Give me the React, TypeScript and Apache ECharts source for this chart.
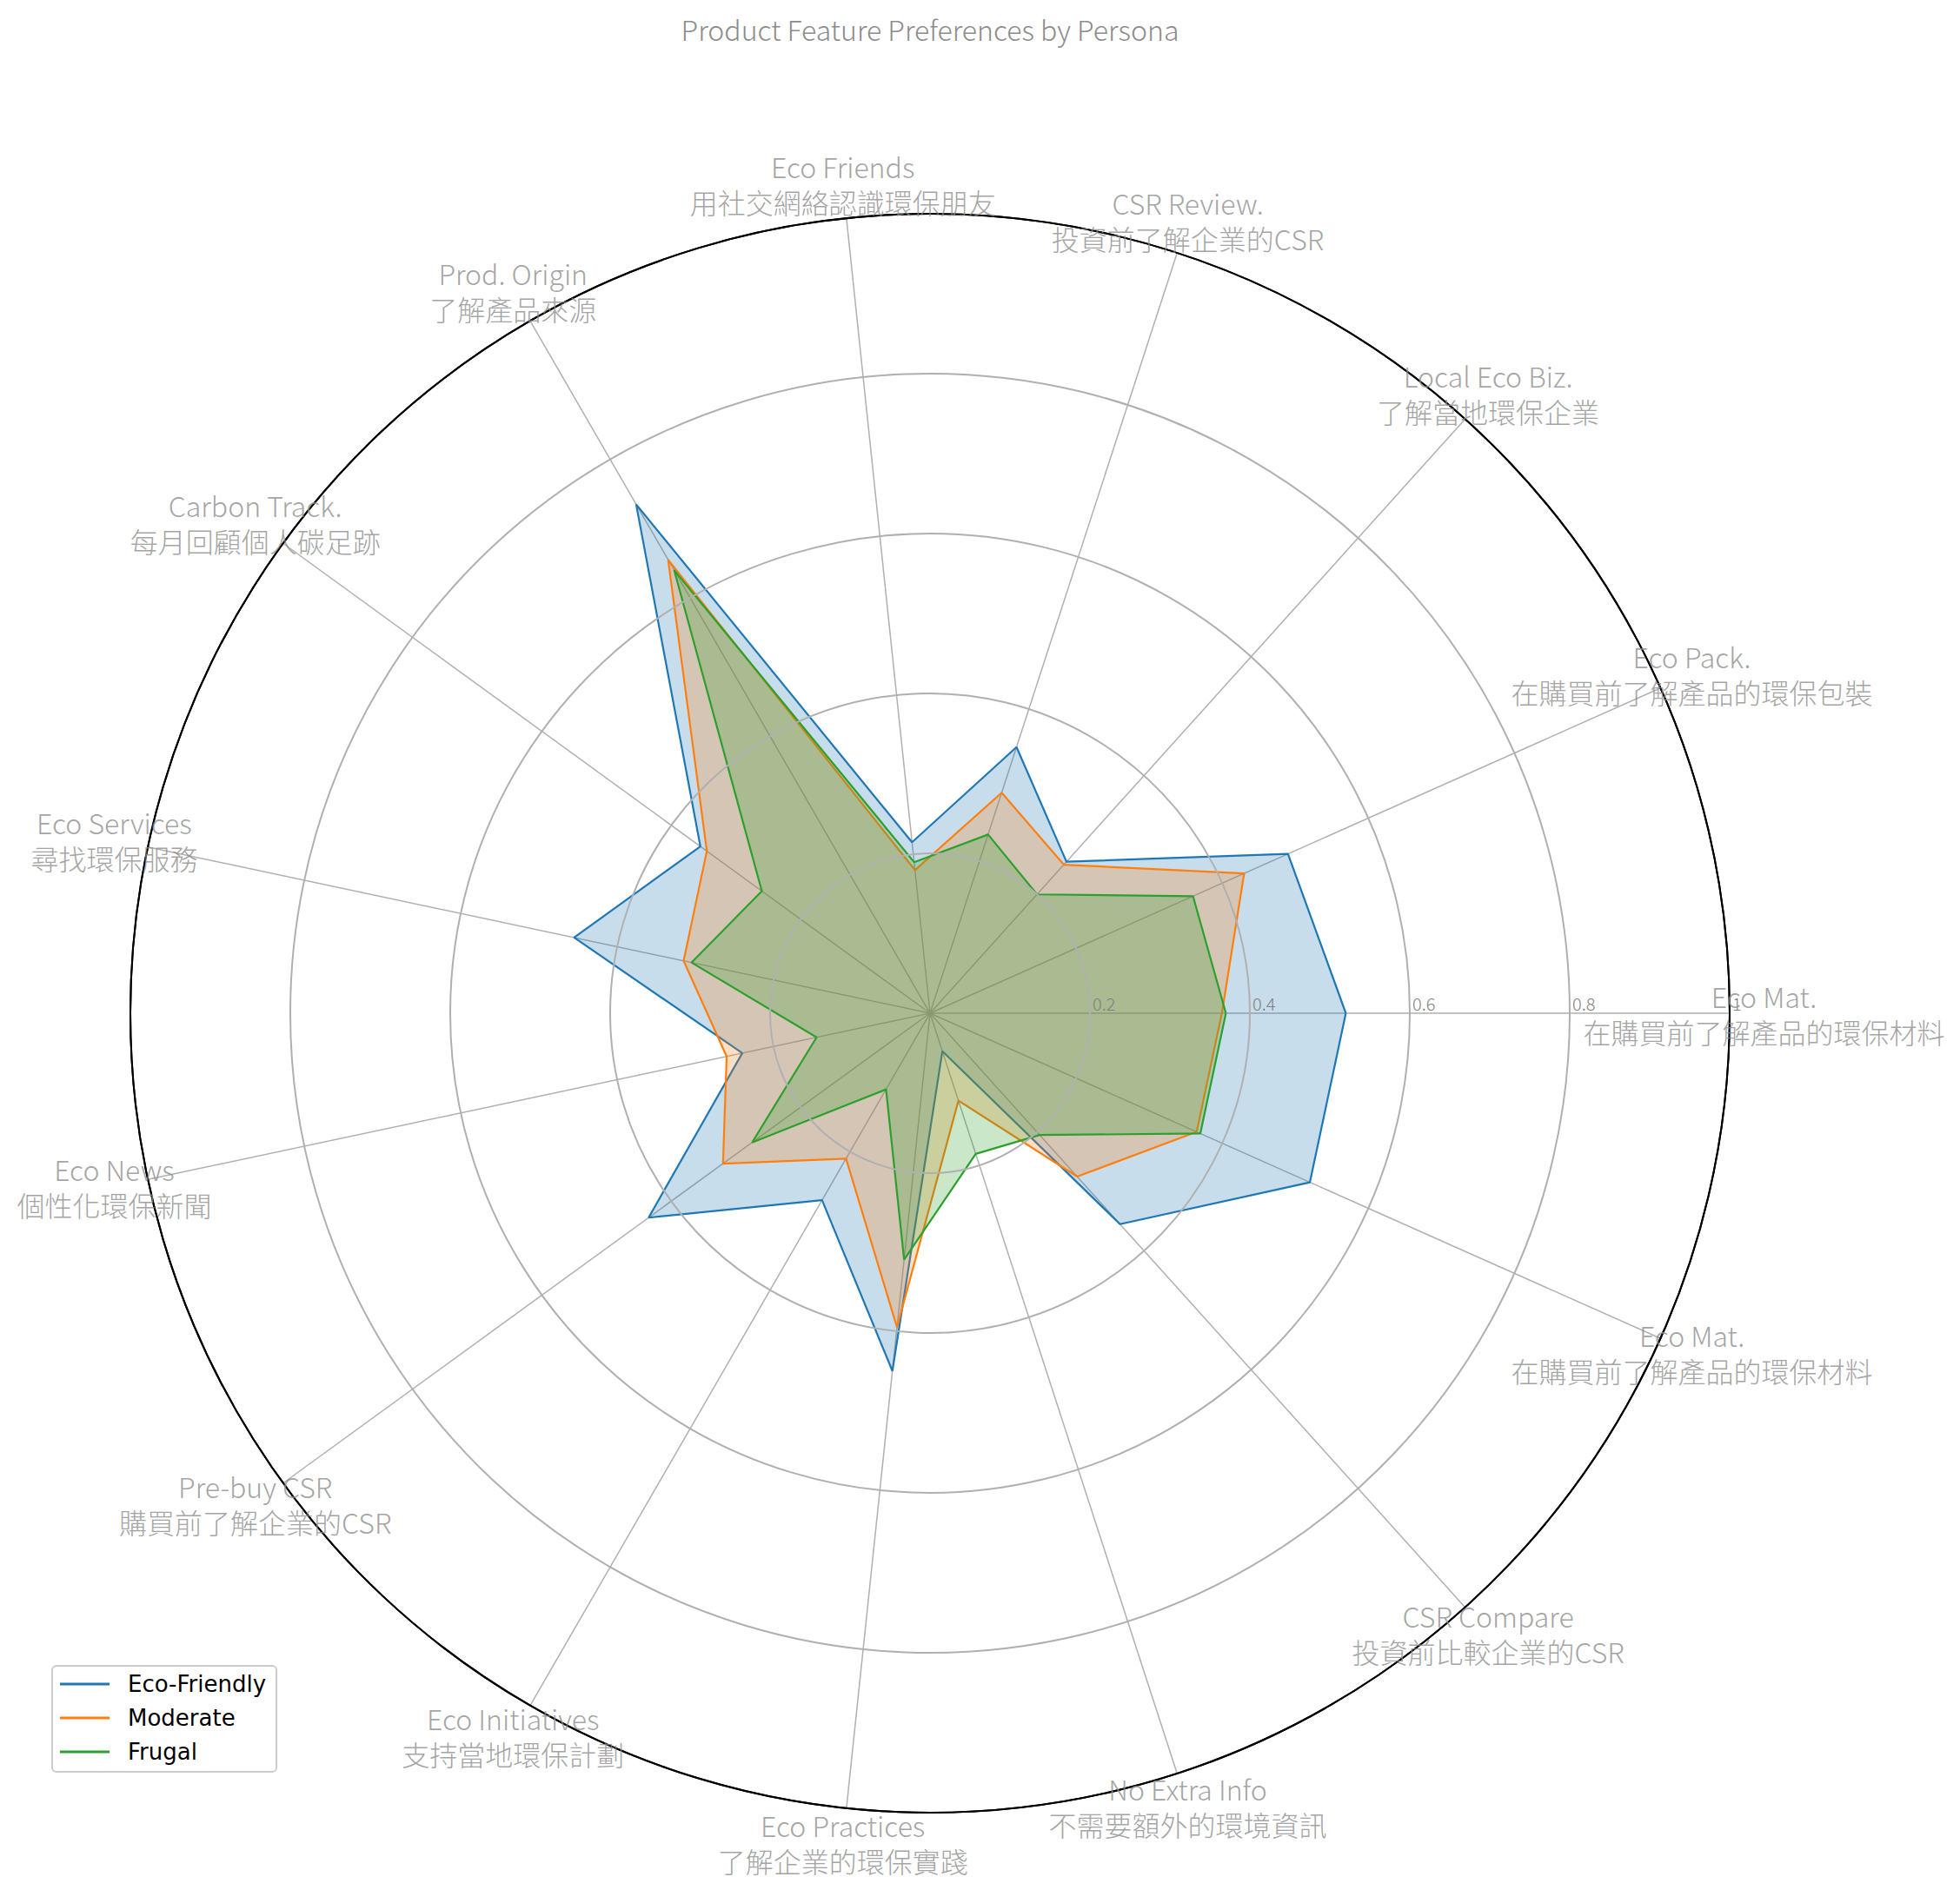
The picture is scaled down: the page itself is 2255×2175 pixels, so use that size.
import React, { useEffect, useRef } from 'react';
import * as echarts from 'echarts';

const TITLE = 'Product Feature Preferences by Persona';

const LABELS_EN = [
  'Eco Mat.', 'Eco Pack.', 'Local Eco Biz.', 'CSR Review.', 'Eco Friends',
  'Prod. Origin', 'Carbon Track.', 'Eco Services', 'Eco News', 'Pre-buy CSR',
  'Eco Initiatives', 'Eco Practices', 'No Extra Info', 'CSR Compare', 'Eco Mat.',
];
const LABELS_ZH = [
  '在購買前了解產品的環保材料', '在購買前了解產品的環保包裝', '了解當地環保企業', '投資前了解企業的CSR', '用社交網絡認識環保朋友',
  '了解產品來源', '每月回顧個人碳足跡', '尋找環保服務', '個性化環保新聞', '購買前了解企業的CSR',
  '支持當地環保計劃', '了解企業的環保實踐', '不需要額外的環境資訊', '投資前比較企業的CSR', '在購買前了解產品的環保材料',
];

const SERIES_NAMES = ['Eco-Friendly', 'Moderate', 'Frugal'];
const ECO_FRIENDLY = [0.52, 0.49, 0.255, 0.35, 0.215, 0.735, 0.355, 0.455, 0.24, 0.435, 0.27, 0.45, 0.05, 0.355, 0.52];
const MODERATE = [0.365, 0.43, 0.25, 0.29, 0.18, 0.655, 0.345, 0.315, 0.26, 0.32, 0.21, 0.395, 0.115, 0.275, 0.365];
const FRUGAL = [0.37, 0.36, 0.2, 0.235, 0.19, 0.64, 0.26, 0.305, 0.145, 0.275, 0.11, 0.31, 0.185, 0.205, 0.37];
const RADIUS_TICKS = [0, 0.2, 0.4, 0.6, 0.8, 1];

const COLORS = ['#1f77b4', '#ff7f0e', '#2ca02c'];
const FILLS = ['rgba(31,119,180,0.25)', 'rgba(255,127,14,0.25)', 'rgba(44,160,44,0.25)'];

const LABEL_FONT = "'Noto Sans CJK TC', 'Noto Sans CJK SC', 'Noto Sans', sans-serif";

export default function App() {
  const ref = useRef<HTMLDivElement>(null);

  useEffect(() => {
    if (!ref.current) return;
    const chart = echarts.init(ref.current, null, { renderer: 'svg' });
    const n = LABELS_EN.length;
    const step = 360 / n;
    const angles = LABELS_EN.map((_, i) => i * step);
    const toPolar = (vals: number[]) => [
      ...vals.map((v, i) => [v, angles[i]]),
      [vals[0], 360],
    ];
    const allSeries = [ECO_FRIENDLY, MODERATE, FRUGAL];
    const cx = 1070;
    const cy = 1166;
    const R = 920;
    const circleColors = RADIUS_TICKS.map((_, i) =>
      i === RADIUS_TICKS.length - 1 ? '#000000' : '#b0b0b0'
    );

    chart.setOption({
      animation: false,
      backgroundColor: '#ffffff',
      graphic: [
        {
          type: 'text',
          x: cx,
          y: 33,
          style: {
            text: TITLE,
            fill: '#8c8c8c',
            fontSize: 32,
            fontWeight: 300,
            fontFamily: LABEL_FONT,
            textAlign: 'center',
            textVerticalAlign: 'middle',
          },
        },
      ],
      polar: { center: [cx, cy], radius: R },
      angleAxis: {
        type: 'value',
        min: 0,
        max: 360,
        interval: step,
        startAngle: 0,
        clockwise: false,
        axisLine: { show: true, lineStyle: { color: '#000000', width: 2 } },
        axisTick: { show: false },
        axisLabel: { show: false },
        splitLine: { show: true, lineStyle: { color: '#b0b0b0', width: 1.5 } },
      },
      radiusAxis: {
        type: 'value',
        min: RADIUS_TICKS[0],
        max: RADIUS_TICKS[RADIUS_TICKS.length - 1],
        interval: RADIUS_TICKS[1] - RADIUS_TICKS[0],
        z: 10,
        axisLine: { show: false },
        axisTick: { show: false },
        splitLine: { show: true, lineStyle: { color: circleColors, width: 2 } },
        axisLabel: {
          show: true,
          align: 'left',
          verticalAlign: 'bottom',
          margin: 2,
          padding: [0, 0, 0, 3],
          fontSize: 20,
          color: '#808080',
          fontFamily: LABEL_FONT,
          fontWeight: 300,
          formatter: (v: number) => (v === 0 ? '' : String(+v.toFixed(1))),
        },
      },
      legend: {
        data: SERIES_NAMES,
        orient: 'vertical',
        left: 60,
        top: 1917,
        icon: 'rect',
        itemWidth: 57,
        itemHeight: 3,
        itemGap: 9,
        padding: [6, 12, 8, 9],
        backgroundColor: '#ffffff',
        borderColor: '#cccccc',
        borderWidth: 2,
        borderRadius: 5,
        textStyle: {
          fontFamily: 'DejaVu Sans',
          fontSize: 26,
          color: '#000000',
          lineHeight: 30,
          padding: [0, 0, 0, 16],
        },
      },
      series: [
        ...allSeries.map((vals, i) => ({
          type: 'line',
          name: SERIES_NAMES[i],
          coordinateSystem: 'polar',
          data: toPolar(vals),
          symbol: 'none',
          smooth: false,
          clip: false,
          z: 2 + i,
          lineStyle: { color: COLORS[i], width: 2.2 },
          itemStyle: { color: COLORS[i] },
          areaStyle: { color: FILLS[i], opacity: 1 },
        })),
        {
          type: 'scatter',
          name: 'labels',
          coordinateSystem: 'polar',
          silent: true,
          clip: false,
          symbolSize: 1,
          itemStyle: { color: 'rgba(0,0,0,0)' },
          z: 20,
          data: LABELS_EN.map((en, i) => ({
            name: en + '\n' + LABELS_ZH[i],
            value: [1.043, angles[i]],
          })),
          label: {
            show: true,
            position: 'inside',
            formatter: '{b}',
            align: 'center',
            verticalAlign: 'middle',
            fontSize: 32,
            lineHeight: 41,
            color: '#8c8c8c',
            fontFamily: LABEL_FONT,
            fontWeight: 300,
          },
        },
      ],
    });

    return () => chart.dispose();
  }, []);

  return (
    <div
      ref={ref}
      style={{ position: 'fixed', left: 0, top: 0, width: 2255, height: 2175 }}
    />
  );
}
